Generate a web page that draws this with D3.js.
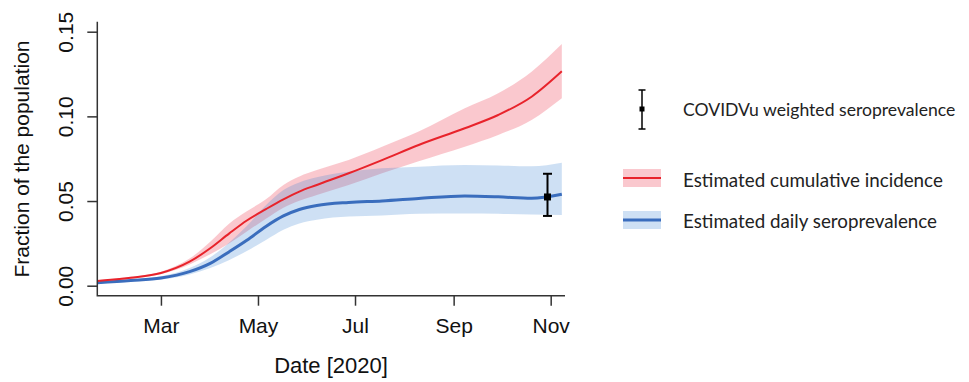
<!DOCTYPE html>
<html>
<head>
<meta charset="utf-8">
<script src="https://cdn.jsdelivr.net/npm/d3@7"></script>
<style>
  body { margin: 0; background: #fff; }
  svg { display: block; }
</style>
</head>
<body>
<svg width="969" height="382"></svg>
<script>
const dates = ['2020-01-21', '2020-02-11', '2020-03-01', '2020-03-19', '2020-04-01', '2020-04-13', '2020-04-24', '2020-05-06', '2020-05-17', '2020-05-27', '2020-06-07', '2020-06-27', '2020-07-18', '2020-08-10', '2020-09-08', '2020-09-29', '2020-10-20', '2020-11-08']
const cumIncidence = [0.0028, 0.0047, 0.0075, 0.0142, 0.0221, 0.0309, 0.0385, 0.0452, 0.0510, 0.0556, 0.0595, 0.0664, 0.0742, 0.0831, 0.0930, 0.1008, 0.1116, 0.1266]
const cumUpper = [0.0033, 0.0053, 0.0083, 0.0160, 0.0260, 0.0368, 0.0440, 0.0510, 0.0595, 0.0645, 0.0683, 0.0742, 0.0820, 0.0910, 0.1048, 0.1136, 0.1264, 0.1427]
const cumLower = [0.0024, 0.0041, 0.0067, 0.0125, 0.0185, 0.0250, 0.0320, 0.0395, 0.0460, 0.0502, 0.0536, 0.0595, 0.0664, 0.0735, 0.0821, 0.0890, 0.0979, 0.1107]
const seroprev = [0.0018, 0.0030, 0.0045, 0.0083, 0.0132, 0.0201, 0.0268, 0.0350, 0.0412, 0.0450, 0.0474, 0.0492, 0.0500, 0.0515, 0.0530, 0.0525, 0.0516, 0.0540]
const seroUpper = [0.0022, 0.0036, 0.0056, 0.0105, 0.0168, 0.0255, 0.0352, 0.0475, 0.0565, 0.0610, 0.0640, 0.0673, 0.0693, 0.0703, 0.0713, 0.0710, 0.0705, 0.0726]
const seroLower = [0.0014, 0.0024, 0.0036, 0.0066, 0.0105, 0.0152, 0.0205, 0.0270, 0.0330, 0.0368, 0.0390, 0.0408, 0.0415, 0.0425, 0.0427, 0.0425, 0.0420, 0.0418]

// COVIDVu survey point with its interval
const surveyDate = ['2020-10-30']
const surveyValue = [0.0524]
const surveyLow = [0.0412]
const surveyHigh = [0.0661]

const xTicks = ['2020-03-01', '2020-05-01', '2020-07-01', '2020-09-01', '2020-11-01']
const yTicks = [0, 0.05, 0.10, 0.15]
const legendLabels = ['COVIDVu weighted seroprevalence', 'Estimated cumulative incidence', 'Estimated daily seroprevalence']

const parse = d3.timeParse('%Y-%m-%d')
const red = '#e8232b'
const blue = '#3a6dbd'
const redFill = 'rgb(235,50,75)'
const blueFill = 'rgb(60,130,210)'

const svg = d3.select('svg')
const plotLeft = 97.3
const plotRight = 565
const plotTop = 21.7
const plotBottom = 295.7

const x = d3.scaleTime()
  .domain([parse('2020-01-21'), parse('2020-11-10')])
  .range([plotLeft, plotRight])
const y = d3.scaleLinear()
  .domain([0, 0.15])
  .range([285.7, 31.7])

const rows = dates.map((d, i) => ({
  date: parse(d),
  cum: cumIncidence[i],
  cumHi: cumUpper[i],
  cumLo: cumLower[i],
  sero: seroprev[i],
  seroHi: seroUpper[i],
  seroLo: seroLower[i]
}))

const band = (lo, hi) => d3.area()
  .curve(d3.curveMonotoneX)
  .x(d => x(d.date))
  .y0(d => y(d[lo]))
  .y1(d => y(d[hi]))

const line = key => d3.line()
  .curve(d3.curveMonotoneX)
  .x(d => x(d.date))
  .y(d => y(d[key]))

const g = svg.append('g')

g.append('path')
  .datum(rows)
  .attr('fill', redFill)
  .attr('fill-opacity', 0.27)
  .attr('d', band('cumLo', 'cumHi'))

g.append('path')
  .datum(rows)
  .attr('fill', blueFill)
  .attr('fill-opacity', 0.25)
  .attr('d', band('seroLo', 'seroHi'))

g.append('path')
  .datum(rows)
  .attr('fill', 'none')
  .attr('stroke', blue)
  .attr('stroke-width', 3)
  .attr('d', line('sero'))

g.append('path')
  .datum(rows)
  .attr('fill', 'none')
  .attr('stroke', red)
  .attr('stroke-width', 2)
  .attr('d', line('cum'))

// survey estimate with error bar
const sx = x(parse(surveyDate[0]))
g.append('line')
  .attr('x1', sx).attr('x2', sx)
  .attr('y1', y(surveyLow[0])).attr('y2', y(surveyHigh[0]))
  .attr('stroke', '#000').attr('stroke-width', 2)
;[surveyLow[0], surveyHigh[0]].forEach(v => {
  g.append('line')
    .attr('x1', sx - 4.5).attr('x2', sx + 4.5)
    .attr('y1', y(v)).attr('y2', y(v))
    .attr('stroke', '#000').attr('stroke-width', 2)
})
g.append('rect')
  .attr('x', sx - 3.5).attr('y', y(surveyValue[0]) - 3.5)
  .attr('width', 7).attr('height', 7)
  .attr('fill', '#000')

// axes, R style: L shaped box
const axisColor = '#333'
const font = 'Liberation Sans, Arial, sans-serif'

svg.append('path')
  .attr('d', `M${plotLeft},${plotTop}V${plotBottom}H${plotRight}`)
  .attr('fill', 'none')
  .attr('stroke', axisColor)
  .attr('stroke-width', 1.5)

const yAxis = svg.append('g')
  .attr('transform', `translate(${plotLeft},0)`)
  .call(d3.axisLeft(y).tickValues(yTicks).tickSize(10).tickFormat(d3.format('.2f')))
yAxis.select('.domain').remove()
yAxis.selectAll('line').attr('stroke', axisColor).attr('stroke-width', 1.5)
yAxis.selectAll('text')
  .attr('x', null).attr('dy', null)
  .attr('text-anchor', 'middle')
  .attr('transform', 'translate(-24,0) rotate(-90)')
  .attr('fill', '#111')
  .style('font-family', font)
  .style('font-size', '21px')

const xAxis = svg.append('g')
  .attr('transform', `translate(0,${plotBottom})`)
  .call(d3.axisBottom(x).tickValues(xTicks.map(parse)).tickSize(10).tickFormat(d3.timeFormat('%b')))
xAxis.select('.domain').remove()
xAxis.selectAll('line').attr('stroke', axisColor).attr('stroke-width', 1.5)
xAxis.selectAll('text')
  .attr('y', 37.5).attr('dy', null)
  .attr('fill', '#111')
  .style('font-family', font)
  .style('font-size', '21px')

svg.append('text')
  .attr('transform', 'translate(29,159) rotate(-90)')
  .attr('text-anchor', 'middle')
  .attr('fill', '#111')
  .style('font-family', font)
  .style('font-size', '21px')
  .text('Fraction of the population')

svg.append('text')
  .attr('x', 331).attr('y', 373)
  .attr('text-anchor', 'middle')
  .attr('fill', '#111')
  .style('font-family', font)
  .style('font-size', '22px')
  .text('Date [2020]')

// legend
const legend = svg.append('g')
const lx = 642
legend.append('line')
  .attr('x1', lx).attr('x2', lx).attr('y1', 90).attr('y2', 129)
  .attr('stroke', '#000').attr('stroke-width', 1.5)
;[90, 129].forEach(v => {
  legend.append('line')
    .attr('x1', lx - 3.5).attr('x2', lx + 3.5).attr('y1', v).attr('y2', v)
    .attr('stroke', '#000').attr('stroke-width', 1.5)
})
legend.append('rect')
  .attr('x', lx - 2.5).attr('y', 106.5).attr('width', 5).attr('height', 5)
  .attr('fill', '#000')

const swatches = [
  { y: 178, fill: redFill, opacity: 0.27, stroke: red, width: 2 },
  { y: 220, fill: blueFill, opacity: 0.25, stroke: blue, width: 3 }
]
swatches.forEach(s => {
  legend.append('rect')
    .attr('x', 623).attr('y', s.y - 9).attr('width', 38).attr('height', 18)
    .attr('fill', s.fill).attr('fill-opacity', s.opacity)
  legend.append('line')
    .attr('x1', 623).attr('x2', 661).attr('y1', s.y).attr('y2', s.y)
    .attr('stroke', s.stroke).attr('stroke-width', s.width)
})

const textY = [116, 186.5, 228]
// first label is a bit smaller so it stays inside the page
const textSize = ['17.6px', '18.8px', '18.8px']
legendLabels.forEach((label, i) => {
  legend.append('text')
    .attr('x', 683).attr('y', textY[i])
    .attr('fill', '#222')
    .style('font-family', 'Lato, Open Sans, sans-serif')
    .style('font-size', textSize[i])
    .text(label)
})
</script>
</body>
</html>
